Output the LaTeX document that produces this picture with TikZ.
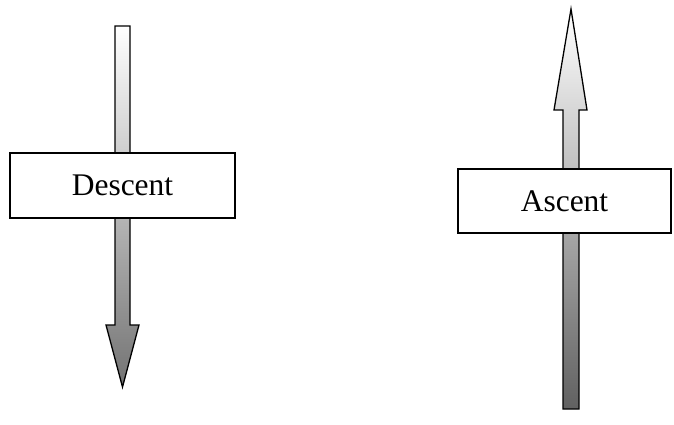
\documentclass[tikz,border=0pt]{standalone}
\usepackage{fontspec}
\setmainfont{Liberation Serif}
\begin{document}
\begin{tikzpicture}[x=1pt,y=-1pt,
  arrowshape/.style={draw=black,line width=1.3pt,line join=miter},
  label box/.style={draw=black,line width=1.3pt,fill=white,rectangle,inner sep=0pt,font=\fontsize{31.5}{33}\selectfont}]
\useasboundingbox (0,0) rectangle (674,425);
% Descent arrow
\path[arrowshape,top color=white,bottom color=black!55]
  (115,26) -- (130,26) -- (130,325) -- (139,325) -- (122.5,387) -- (106,325) -- (115,325) -- cycle;
\node[label box,minimum width=225pt,minimum height=65pt] (descent) at (122.5,185.5) {Descent};
% Ascent arrow
\path[arrowshape,top color=white,bottom color=black!62]
  (571,9) -- (587,110) -- (579,110) -- (579,409) -- (563,409) -- (563,110) -- (554,110) -- cycle;
\node[label box,minimum width=213pt,minimum height=64pt] (ascent) at (564.5,201) {Ascent};
\end{tikzpicture}
\end{document}
